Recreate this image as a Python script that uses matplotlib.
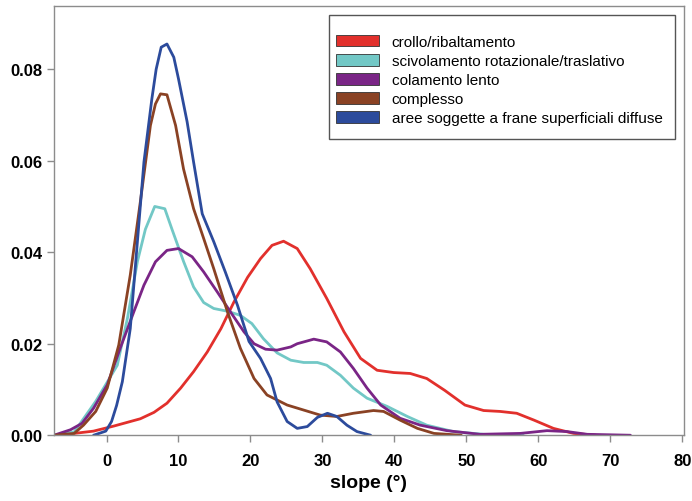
import matplotlib
matplotlib.use('Agg')
import matplotlib.pyplot as plt
from matplotlib.patches import Patch, Rectangle

# density curves (slope in degrees, density)
crollo_x = [-7.3, -4.5, -1.8, 1.0, 4.7, 6.6, 8.4, 10.3, 12.1, 14.0, 15.9, 17.7, 19.6, 21.4, 23.0,
            24.6, 26.5, 28.3, 30.6, 33.0, 35.3, 37.6, 39.9, 42.2, 44.5, 47.0, 49.8, 52.4, 54.7,
            57.0, 59.4, 62.1, 64.9, 68.0]
crollo_y = [0.0, 0.0004, 0.0009, 0.0020, 0.0036, 0.0050, 0.0070, 0.0103, 0.0139, 0.0182, 0.0233,
            0.0291, 0.0345, 0.0386, 0.0415, 0.0424, 0.0408, 0.0364, 0.0299, 0.0226, 0.0168, 0.0142,
            0.0137, 0.0135, 0.0124, 0.0098, 0.0066, 0.0054, 0.0052, 0.0048, 0.0033, 0.0015, 0.0004, 0.0]

scivol_x = [-7.3, -4.5, -1.5, 1.5, 2.9, 4.3, 5.4, 6.7, 8.1, 9.1, 10.7, 12.1, 13.5, 14.9, 16.8, 18.6,
            20.2, 21.8, 23.7, 25.6, 27.4, 29.3, 30.6, 32.5, 34.3, 36.2, 39.0, 41.8, 44.5, 48.2, 52.4, 57.9]
scivol_y = [0.0, 0.0007, 0.0074, 0.0153, 0.0255, 0.038, 0.045, 0.050, 0.0495, 0.045, 0.038, 0.0324,
            0.029, 0.0277, 0.0271, 0.0262, 0.0244, 0.0211, 0.0180, 0.0164, 0.0159, 0.0159, 0.0153,
            0.0131, 0.0103, 0.0081, 0.0063, 0.0041, 0.0022, 0.0008, 0.0002, 0.0]

colam_x = [-7.3, -5.0, -3.4, -1.8, 0.1, 1.9, 3.8, 5.2, 6.8, 8.4, 10.0, 11.9, 13.5, 15.4, 17.2, 19.1,
           20.5, 22.1, 23.7, 25.6, 26.5, 28.8, 30.6, 32.5, 34.3, 36.2, 38.1, 40.8, 43.6, 47.3, 51.9,
           57.5, 61.2, 64.0, 66.8, 72.8]
colam_y = [0.0, 0.0012, 0.0026, 0.0059, 0.011, 0.019, 0.027, 0.0328, 0.0379, 0.0404, 0.0408, 0.039,
           0.0357, 0.0313, 0.027, 0.0226, 0.020, 0.0188, 0.0186, 0.0193, 0.020, 0.021, 0.0204, 0.0182,
           0.0146, 0.0103, 0.0066, 0.0037, 0.0022, 0.001, 0.0002, 0.0004, 0.001, 0.0008, 0.0002, 0.0]

compl_x = [-7.3, -4.5, -3.2, -1.5, 0.1, 1.7, 3.3, 4.7, 6.1, 6.8, 7.5, 8.4, 9.6, 10.7, 12.1, 13.5,
           14.9, 16.8, 18.6, 20.5, 22.3, 25.1, 27.4, 29.7, 32.0, 34.3, 37.1, 38.5, 40.8, 43.2, 45.5, 49.3]
compl_y = [0.0, 0.0004, 0.0022, 0.0052, 0.0103, 0.0197, 0.035, 0.051, 0.0677, 0.0724, 0.0746, 0.0744,
           0.0677, 0.0582, 0.0495, 0.043, 0.0364, 0.027, 0.019, 0.0124, 0.0088, 0.0066, 0.0055,
           0.0044, 0.0041, 0.0048, 0.0054, 0.0052, 0.0033, 0.0015, 0.0004, 0.0]

aree_x = [-1.8, -0.1, 0.7, 1.4, 2.2, 3.3, 5.2, 6.3, 6.9, 7.6, 8.4, 9.35, 10.0, 11.2, 12.1, 13.3, 14.9,
          16.5, 18.2, 19.8, 21.4, 22.8, 23.7, 25.1, 26.5, 27.9, 29.3, 30.7, 32.0, 33.4, 34.8, 36.7]
aree_y = [0.0, 0.0009, 0.003, 0.0065, 0.0117, 0.0233, 0.0597, 0.0735, 0.080, 0.0848, 0.0855, 0.0826,
          0.0779, 0.0685, 0.0597, 0.0484, 0.0423, 0.0357, 0.0284, 0.0205, 0.0168, 0.0124, 0.0073,
          0.003, 0.0015, 0.0019, 0.0039, 0.0048, 0.0041, 0.0022, 0.0008, 0.0]

labels = ['crollo/ribaltamento', 'scivolamento rotazionale/traslativo', 'colamento lento',
          'complesso', 'aree soggette a frane superficiali diffuse']
colors = ['#e2302c', '#72c8c6', '#7a2586', '#8a4224', '#2c4b9c']

fig = plt.figure(figsize=(6.92, 5.02), dpi=100)
ax = fig.add_axes([0.078, 0.131, 0.910, 0.855])

series = [(crollo_x, crollo_y), (scivol_x, scivol_y), (colam_x, colam_y),
          (compl_x, compl_y), (aree_x, aree_y)]
for (xs, ys), c in zip(series, colors):
    ax.plot(xs, ys, color=c, lw=2.0, solid_joinstyle='round', solid_capstyle='round')

ax.set_xlim(-7.3, 80.2)
ax.set_ylim(0, 0.0938)
ax.set_xticks(range(0, 81, 10))
ax.set_yticks([0.0, 0.02, 0.04, 0.06, 0.08])
ax.set_yticklabels(['0.00', '0.02', '0.04', '0.06', '0.08'])

for s in ax.spines.values():
    s.set_color('#8c8c8c')
    s.set_linewidth(1.0)
ax.tick_params(colors='#8c8c8c', length=5, width=1.0, labelcolor='black')
for lab in ax.get_xticklabels() + ax.get_yticklabels():
    lab.set_fontfamily(['Liberation Sans Narrow', 'Liberation Sans', 'DejaVu Sans'])
    lab.set_fontweight('bold')
    lab.set_fontsize(12)
ax.tick_params(axis='x', pad=8)

ax.set_xlabel('slope (°)', fontsize=14, fontweight='bold', labelpad=4,
              family=['Liberation Sans Narrow', 'Liberation Sans', 'DejaVu Sans'])

# legend box drawn separately so its padding can match the reference
ax.add_patch(Rectangle((0.4365, 0.690), 0.549, 0.289, transform=ax.transAxes,
                       facecolor='white', edgecolor='#555555', lw=1.0, zorder=4))
handles = [Patch(facecolor=c, edgecolor='#333333', linewidth=0.6) for c in colors]
leg = ax.legend(handles, labels, loc='upper left', bbox_to_anchor=(0.4476, 0.932),
                frameon=False, handlelength=2.8, handleheight=0.75, labelspacing=0.33,
                borderpad=0, borderaxespad=0, handletextpad=0.85,
                prop={'family': ['Liberation Sans', 'DejaVu Sans'], 'size': 11})
leg.set_zorder(5)

fig.savefig('out.png', dpi=100)
